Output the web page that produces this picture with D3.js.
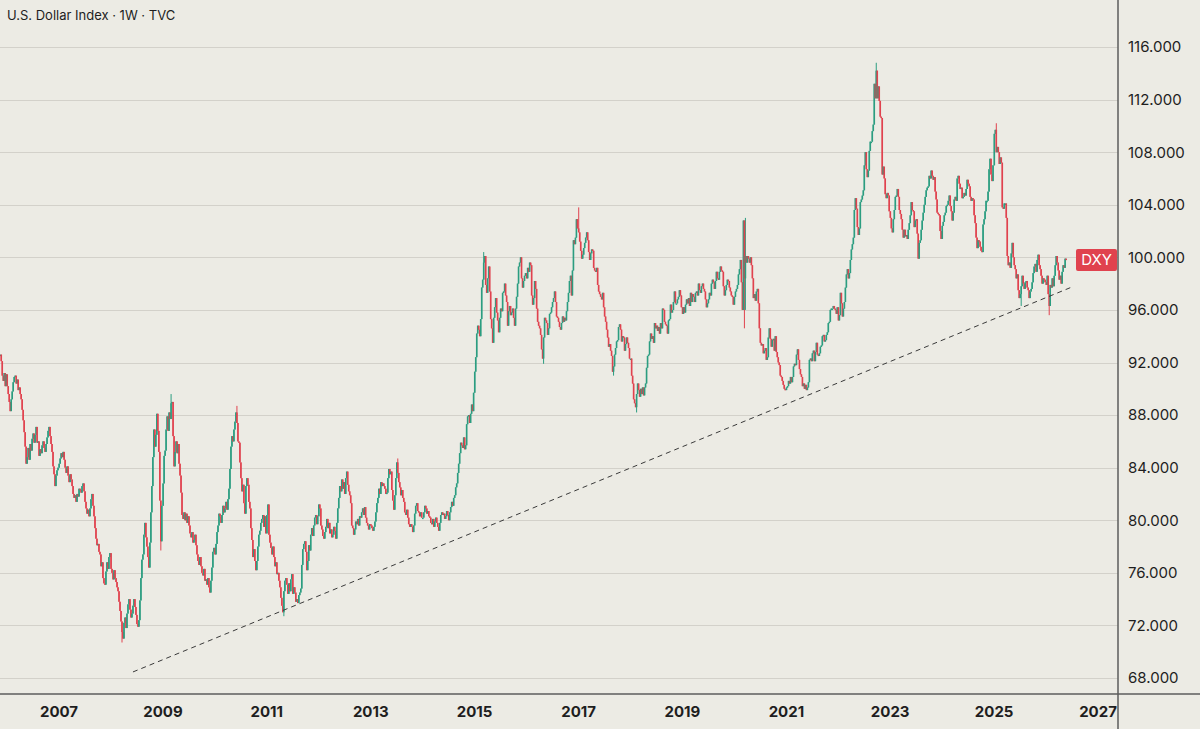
<!DOCTYPE html>
<html lang="en">
<head>
	<meta charset="UTF-8">
	<title>U.S. Dollar Index · 1W · TVC</title>
	<style>
		body { margin: 0; background: #ecebe4; }
		svg { display: block; }
	</style>
</head>
<body>

	<script src="https://d3js.org/d3.v7.min.js" charset="utf-8"></script>

	<script type="text/javascript">

		var chartWidth = 1200,
			chartHeight = 729,
			plotRight = 1118,
			plotBottom = 694;

		var upColor = "#2b9d80",
			downColor = "#e0424e";

		// weekly closes, one array per calendar year
		var w2005 = [92.6, 92.1, 91.0, 90.6, 91.2, 90.2, 91.1]; // from mid November
		var w2006 = [90.2, 89.6, 89.0, 88.3, 89.2, 89.8, 90.5, 90.9, 91.0, 90.4, 90.7, 89.9, 90.1,
			89.6, 89.2, 88.4, 87.6, 86.7, 85.6, 84.3, 84.8, 85.5, 84.6, 85.8, 85.3, 86.2, 86.6,
			85.9, 86.5, 87.1, 85.9, 86.0, 84.9, 85.4, 85.1, 85.7, 86.0, 85.5, 85.2, 85.8, 86.3,
			86.8, 87.1, 86.4, 85.8, 85.2, 84.1, 83.5, 82.6, 83.4, 83.8, 84.0];
		var w2007 = [84.3, 84.7, 85.1, 84.8, 85.2, 84.6, 84.0, 83.6, 84.1, 83.4, 82.9, 83.5, 83.1,
			82.6, 82.0, 81.7, 81.9, 81.4, 82.0, 81.8, 82.4, 82.3, 82.1, 82.6, 82.8, 82.2, 81.4,
			80.9, 80.5, 80.8, 80.3, 80.9, 81.6, 82.0, 81.1, 80.3, 79.4, 78.6, 78.1, 78.2, 77.6,
			77.4, 76.5, 76.8, 75.6, 75.2, 75.1, 76.1, 76.8, 76.3, 77.2, 77.5];
		var w2008 = [76.3, 76.0, 75.5, 76.2, 75.6, 75.3, 74.9, 74.6, 73.8, 73.1, 72.3, 71.5, 71.0,
			72.2, 72.6, 71.8, 72.9, 73.6, 74.0, 73.2, 72.6, 72.9, 73.5, 74.0, 73.4, 72.8, 72.1,
			71.9, 72.4, 73.9, 75.6, 77.0, 77.4, 78.9, 79.8, 78.7, 78.0, 77.2, 76.4, 78.3, 80.6,
			82.6, 84.8, 86.9, 85.6, 86.5, 88.1, 86.8, 85.2, 81.5, 78.4, 81.1];
		var w2009 = [82.8, 84.9, 85.3, 86.9, 87.9, 86.8, 88.2, 87.7, 88.9, 89.0, 86.4, 84.1, 85.2,
			86.0, 85.1, 85.8, 84.3, 83.4, 82.1, 80.4, 80.1, 80.6, 80.0, 80.5, 79.8, 80.3, 79.6,
			79.0, 78.7, 79.1, 78.3, 78.5, 78.9, 78.1, 77.4, 76.9, 76.6, 77.2, 76.5, 76.0, 75.8,
			76.3, 75.4, 75.5, 75.1, 75.6, 74.9, 74.5, 75.4, 76.4, 77.6, 77.9];
		var w2010 = [77.4, 78.2, 79.1, 79.6, 80.5, 80.3, 79.8, 80.4, 81.1, 80.6, 80.9, 81.4, 80.8,
			81.6, 82.4, 83.9, 85.6, 86.4, 86.0, 86.9, 87.5, 88.2, 87.4, 86.0, 85.9, 84.4, 83.2,
			82.2, 82.7, 81.3, 80.5, 82.6, 83.2, 82.7, 81.4, 80.9, 79.4, 78.5, 77.2, 77.8, 76.9,
			76.2, 76.9, 78.0, 78.9, 79.2, 79.8, 80.1, 80.4, 79.5, 80.3, 79.0];
		var w2011 = [80.4, 81.2, 78.9, 78.3, 77.9, 77.4, 78.0, 77.2, 76.5, 76.8, 75.9, 76.0, 75.4,
			74.9, 74.1, 73.5, 73.0, 74.6, 75.4, 75.6, 75.1, 74.4, 75.2, 74.6, 75.5, 75.9, 74.4,
			74.9, 74.5, 73.8, 74.0, 73.7, 74.3, 74.5, 74.8, 76.6, 77.8, 78.2, 78.4, 77.6, 76.2,
			76.9, 78.1, 77.7, 78.9, 79.4, 78.8, 79.6, 80.2, 80.4, 79.7, 80.3];
		var w2012 = [81.2, 80.9, 79.6, 79.3, 78.8, 78.6, 79.1, 79.5, 80.1, 79.4, 79.8, 79.0, 79.3,
			78.7, 78.9, 79.5, 79.2, 78.6, 79.8, 80.9, 81.7, 82.6, 82.2, 83.1, 82.4, 82.9, 82.0,
			83.2, 83.7, 82.7, 82.2, 81.9, 81.3, 79.6, 79.4, 78.9, 79.3, 79.9, 79.7, 80.1, 79.6,
			80.3, 80.2, 80.6, 80.9, 80.4, 81.0, 80.2, 79.8, 79.6, 79.3, 79.7];
		var w2013 = [79.6, 79.4, 79.2, 79.5, 79.9, 80.6, 81.3, 81.7, 82.4, 82.0, 82.9, 82.6, 82.8,
			82.6, 82.4, 82.0, 82.1, 83.2, 83.9, 83.5, 83.7, 82.3, 81.5, 80.8, 81.9, 83.2, 84.4,
			83.6, 82.9, 82.5, 81.9, 82.3, 81.7, 81.4, 80.6, 80.4, 80.8, 80.2, 79.7, 79.5, 79.7,
			79.5, 79.1, 79.6, 80.5, 81.1, 81.3, 80.7, 80.6, 80.3, 80.6, 80.2];
		var w2014 = [80.2, 80.6, 81.1, 80.9, 80.5, 80.7, 80.3, 80.2, 79.8, 79.7, 80.1, 79.5, 79.9,
			80.2, 79.8, 79.5, 79.2, 79.8, 80.4, 80.6, 80.4, 80.5, 80.1, 80.3, 80.7, 80.4, 80.0,
			80.6, 81.0, 81.4, 81.1, 81.7, 81.9, 82.5, 82.8, 83.6, 84.3, 85.1, 85.9, 85.7, 85.5,
			86.3, 85.4, 85.7, 87.3, 87.9, 88.0, 87.4, 88.1, 88.8, 88.3, 89.7];
		var w2015 = [91.3, 92.4, 94.2, 94.8, 94.5, 94.0, 95.3, 97.7, 98.3, 99.6, 100.1, 97.9, 97.3,
			98.4, 99.3, 97.4, 95.3, 94.6, 93.5, 95.4, 96.2, 96.9, 95.8, 95.2, 94.3, 95.4, 96.1,
			95.9, 97.3, 97.4, 98.0, 97.1, 96.6, 94.8, 95.9, 96.3, 95.6, 95.8, 96.1, 95.4, 94.8,
			96.1, 97.0, 98.0, 99.3, 99.6, 100.0, 98.4, 97.7, 98.2, 98.6, 98.8];
		var w2016 = [98.4, 99.2, 98.9, 99.6, 99.4, 97.1, 96.4, 96.9, 98.2, 97.6, 96.1, 95.1, 94.8,
			94.6, 94.1, 93.0, 92.3, 93.9, 95.4, 95.2, 95.0, 94.1, 94.6, 95.7, 95.8, 96.2, 96.6,
			96.9, 97.4, 96.6, 95.5, 95.4, 95.1, 94.7, 94.5, 95.0, 95.5, 95.1, 95.4, 95.2, 95.9,
			96.6, 97.3, 98.2, 98.6, 97.1, 99.0, 101.3, 101.0, 101.5, 102.9, 102.2];
		var w2017 = [101.9, 101.2, 100.5, 99.9, 100.2, 100.7, 101.1, 101.5, 101.9, 101.3, 100.4,
			99.8, 100.3, 100.6, 100.5, 99.2, 99.0, 98.9, 99.2, 97.9, 97.4, 97.2, 97.0, 96.8, 97.3,
			96.2, 95.5, 95.1, 94.5, 93.9, 93.2, 93.4, 92.9, 92.5, 91.3, 91.7, 92.6, 93.1, 93.6,
			93.7, 94.7, 94.9, 94.5, 93.6, 94.0, 93.9, 92.9, 93.4, 93.9, 93.5, 93.1, 92.3];
		var w2018 = [92.3, 91.0, 90.4, 89.2, 88.9, 88.6, 89.6, 90.4, 89.9, 89.4, 90.0, 89.6, 90.1,
			89.5, 90.1, 90.4, 91.6, 92.5, 92.6, 93.6, 94.2, 93.8, 94.0, 93.5, 95.0, 94.6, 94.8,
			94.4, 94.7, 94.2, 95.0, 94.6, 96.1, 96.0, 95.1, 94.9, 94.8, 94.2, 95.2, 95.3, 96.4,
			95.8, 96.0, 96.6, 97.4, 96.5, 96.5, 96.8, 97.0, 97.5, 97.1, 96.2];
		var w2019 = [95.7, 96.2, 95.8, 96.4, 96.8, 96.5, 96.9, 96.3, 97.3, 96.6, 97.2, 97.0, 96.6,
			97.3, 97.4, 97.1, 98.0, 97.5, 97.3, 97.8, 98.0, 97.6, 97.4, 96.8, 96.2, 96.5, 96.8,
			97.3, 97.1, 98.0, 98.3, 98.1, 97.6, 98.2, 98.9, 98.4, 98.3, 98.9, 99.3, 99.0, 98.9,
			97.8, 97.1, 97.5, 97.9, 98.3, 98.2, 97.7, 97.4, 97.1, 97.0, 96.4];
		var w2020 = [97.0, 97.4, 97.6, 97.9, 98.7, 99.1, 99.8, 98.1, 96.0, 102.8, 98.4, 100.1,
			99.6, 100.1, 99.9, 99.6, 100.0, 99.4, 98.4, 96.9, 97.2, 96.7, 97.4, 97.6, 96.5, 94.6,
			93.5, 93.3, 93.4, 92.7, 92.9, 93.1, 92.2, 92.4, 93.9, 94.6, 93.8, 93.2, 93.7, 93.8,
			92.9, 94.0, 92.8, 92.4, 92.0, 91.8, 91.0, 90.9, 90.6, 90.3, 90.0, 89.9];
		var w2021 = [90.1, 90.2, 90.6, 90.4, 90.9, 90.5, 90.9, 91.7, 91.9, 91.8, 92.6, 93.0, 92.2,
			91.5, 91.1, 90.9, 90.2, 90.4, 90.0, 90.3, 89.9, 90.1, 90.5, 92.2, 92.3, 92.1, 92.7,
			92.9, 92.1, 92.8, 93.5, 92.6, 92.5, 92.7, 93.2, 93.3, 94.0, 94.1, 93.6, 93.7, 94.1,
			94.3, 95.0, 95.1, 96.0, 96.1, 96.1, 96.3, 96.1, 96.0, 95.7, 96.2];
		var w2022 = [95.2, 95.6, 97.3, 96.5, 95.5, 96.1, 96.6, 97.7, 98.7, 99.1, 98.4, 98.8, 99.8,
			100.6, 101.0, 101.5, 103.6, 104.5, 103.7, 102.3, 101.7, 102.2, 104.2, 104.4, 104.7,
			105.1, 107.0, 108.0, 106.7, 106.1, 106.6, 108.1, 108.8, 108.8, 109.6, 110.1, 113.2,
			112.1, 114.2, 112.1, 113.0, 111.9, 110.7, 110.6, 106.3, 106.9, 106.0, 104.8, 104.5,
			104.9, 104.7, 103.5];
		var w2023 = [103.0, 102.2, 101.9, 102.9, 103.6, 104.6, 104.7, 105.2, 104.6, 103.6, 103.3,
			102.9, 102.1, 101.5, 102.1, 101.6, 101.7, 101.4, 102.1, 102.6, 103.2, 104.2, 103.6,
			103.5, 102.3, 102.8, 102.9, 101.8, 99.9, 101.1, 101.3, 102.1, 102.8, 103.4, 104.0,
			104.6, 105.1, 105.3, 105.4, 106.2, 106.0, 106.6, 106.2, 105.9, 106.1, 105.0, 104.4,
			103.4, 103.3, 103.2, 102.0, 101.4];
		var w2024 = [102.4, 102.7, 103.2, 103.4, 103.9, 104.0, 104.3, 104.7, 103.9, 103.5, 102.8,
			103.4, 104.4, 104.6, 104.3, 106.0, 106.2, 105.6, 105.2, 105.3, 104.5, 104.6, 104.9,
			104.7, 105.2, 105.9, 105.6, 105.4, 104.6, 104.3, 104.5, 104.4, 103.2, 102.6, 101.5,
			100.7, 101.3, 101.2, 100.8, 100.5, 100.4, 102.5, 102.9, 103.5, 104.3, 104.3, 105.0,
			106.7, 107.5, 106.3, 105.8, 107.0];
		var w2025 = [109.4, 109.7, 108.0, 108.4, 108.0, 107.1, 107.6, 107.2, 103.8, 103.7, 104.1,
			104.1, 103.0, 100.1, 99.4, 99.6, 99.2, 100.3, 101.1, 100.0, 99.4, 99.1, 98.4, 98.7,
			97.5, 96.9, 97.2, 97.8, 98.6, 98.0, 97.6, 98.1, 98.2, 97.7, 97.5, 96.9, 97.4, 97.6,
			98.1, 98.8, 99.3, 99.5, 98.9, 99.8, 100.2, 99.4, 99.1, 98.6, 98.0, 98.4, 98.3, 98.1];
		var w2026 = [97.9, 98.6, 97.2, 96.3, 97.9, 97.7, 98.4, 97.8, 98.6, 99.4, 100.1, 99.6, 99.0,
			98.3, 98.6, 98.0, 98.9, 99.4, 99.2, 99.9, 99.8];

		var years = [2005, 2006, 2007, 2008, 2009, 2010, 2011, 2012, 2013, 2014, 2015,
			2016, 2017, 2018, 2019, 2020, 2021, 2022, 2023, 2024, 2025, 2026];
		var yearCloses = [w2005, w2006, w2007, w2008, w2009, w2010, w2011, w2012, w2013, w2014, w2015,
			w2016, w2017, w2018, w2019, w2020, w2021, w2022, w2023, w2024, w2025, w2026];

		// weekly extremes that poke out of the bodies: [week, low, high]
		var wicks = [
			[ "2008-03-17", 70.7, null ],
			[ "2008-12-15", 77.7, null ],
			[ "2009-03-02", null, 89.6 ],
			[ "2010-06-07", null, 88.7 ],
			[ "2011-05-02", 72.7, null ],
			[ "2013-07-08", null, 84.7 ],
			[ "2015-03-09", null, 100.4 ],
			[ "2016-05-02", 91.9, null ],
			[ "2017-01-02", null, 103.8 ],
			[ "2017-09-04", 91.0, null ],
			[ "2018-02-12", 88.2, null ],
			[ "2020-03-09", 94.6, 100.2 ],
			[ "2020-03-16", 96.0, 103.0 ],
			[ "2022-09-26", null, 114.8 ],
			[ "2025-01-13", null, 110.2 ],
			[ "2025-07-07", 96.3, null ],
			[ "2026-01-26", 95.6, null ]
		];

		var priceTicks = [68, 72, 76, 80, 84, 88, 92, 96, 100, 104, 108, 112, 116];
		var yearTicks = [2007, 2009, 2011, 2013, 2015, 2017, 2019, 2021, 2023, 2025, 2027];

		// support line drawn under the 2008 / 2011 / 2021 lows
		var trendLine = [ [ "2008-06-04", 68.46 ], [ "2026-07-01", 97.74 ] ];

		var parseDay = d3.timeParse( "%Y-%m-%d" );


		function buildCandles() {
			var candles = [];

			yearCloses.forEach( function( closes, i ) {
				var start = i === 0 ? new Date( 2005, 10, 14 ) : new Date( years[ i ], 0, 2 );

				closes.forEach( function( close, k ) {
					var open = candles.length ? candles[ candles.length - 1 ].close : close;
					candles.push( {
						date: d3.timeDay.offset( start, 7 * k ),
						open: open,
						close: close,
						high: Math.max( open, close ),
						low: Math.min( open, close )
					} );
				} );
			} );

			wicks.forEach( function( w ) {
				var day = parseDay( w[ 0 ] ),
					nearest = d3.least( candles, function( c ) { return Math.abs( c.date - day ); } );
				if( w[ 1 ] !== null ) { nearest.low = Math.min( nearest.low, w[ 1 ] ); }
				if( w[ 2 ] !== null ) { nearest.high = Math.max( nearest.high, w[ 2 ] ); }
			} );

			return candles;
		}


		var candles = buildCandles();

		var x = d3.scaleTime()
			.domain( [ new Date( 2007, 0, 1 ), new Date( 2027, 0, 1 ) ] )
			.range( [ 59, 1098 ] );

		var y = d3.scaleLinear()
			.domain( [ 68, 116 ] )
			.range( [ 678, 47 ] );

		var svg = d3.select( "body" )
			.append( "svg" )
			.attr( "width", chartWidth )
			.attr( "height", chartHeight )
			.style( "font-family", "Inter, 'Noto Sans', sans-serif" );

		svg.append( "rect" )
			.attr( "width", chartWidth )
			.attr( "height", chartHeight )
			.attr( "fill", "#ecebe4" );

		svg.append( "clipPath" )
			.attr( "id", "plot-clip" )
			.append( "rect" )
			.attr( "width", plotRight )
			.attr( "height", plotBottom );

		// horizontal grid
		svg.append( "g" )
			.selectAll( "line" )
			.data( priceTicks )
			.join( "line" )
			.attr( "x1", 0 )
			.attr( "x2", plotRight )
			.attr( "y1", function( d ) { return Math.round( y( d ) ) + 0.5; } )
			.attr( "y2", function( d ) { return Math.round( y( d ) ) + 0.5; } )
			.attr( "stroke", "#d3d1ca" )
			.attr( "stroke-width", 1 );

		var plot = svg.append( "g" ).attr( "clip-path", "url(#plot-clip)" );

		// candles: wick then body
		plot.append( "g" )
			.selectAll( "line" )
			.data( candles )
			.join( "line" )
			.attr( "x1", function( d ) { return x( d.date ); } )
			.attr( "x2", function( d ) { return x( d.date ); } )
			.attr( "y1", function( d ) { return y( d.high ); } )
			.attr( "y2", function( d ) { return y( d.low ); } )
			.attr( "stroke", function( d ) { return d.close >= d.open ? upColor : downColor; } )
			.attr( "stroke-width", 1 );

		plot.append( "g" )
			.selectAll( "rect" )
			.data( candles )
			.join( "rect" )
			.attr( "x", function( d ) { return x( d.date ) - 0.8; } )
			.attr( "width", 1.6 )
			.attr( "y", function( d ) { return y( Math.max( d.open, d.close ) ); } )
			.attr( "height", function( d ) {
				return Math.max( 1.5, Math.abs( y( d.open ) - y( d.close ) ) );
			} )
			.attr( "fill", function( d ) { return d.close >= d.open ? upColor : downColor; } );

		// dashed support line
		plot.append( "line" )
			.attr( "x1", x( parseDay( trendLine[ 0 ][ 0 ] ) ) )
			.attr( "y1", y( trendLine[ 0 ][ 1 ] ) )
			.attr( "x2", x( parseDay( trendLine[ 1 ][ 0 ] ) ) )
			.attr( "y2", y( trendLine[ 1 ][ 1 ] ) )
			.attr( "stroke", "#3a3a3a" )
			.attr( "stroke-width", 1 )
			.attr( "stroke-dasharray", "5,4" );

		// axes frame
		svg.append( "line" )
			.attr( "x1", 0 ).attr( "x2", chartWidth )
			.attr( "y1", plotBottom ).attr( "y2", plotBottom )
			.attr( "stroke", "#5c5c5c" )
			.attr( "stroke-width", 1.5 );

		svg.append( "line" )
			.attr( "x1", plotRight ).attr( "x2", plotRight )
			.attr( "y1", 0 ).attr( "y2", chartHeight )
			.attr( "stroke", "#5c5c5c" )
			.attr( "stroke-width", 1.5 );

		// price labels
		svg.append( "g" )
			.selectAll( "text" )
			.data( priceTicks )
			.join( "text" )
			.attr( "x", 1128 )
			.attr( "y", function( d ) { return y( d ); } )
			.attr( "dy", "0.36em" )
			.attr( "font-size", 15 )
			.attr( "fill", "#1e1e1e" )
			.text( d3.format( ".3f" ) );

		// year labels
		svg.append( "g" )
			.selectAll( "text" )
			.data( yearTicks )
			.join( "text" )
			.attr( "x", function( d ) { return x( new Date( d, 0, 1 ) ); } )
			.attr( "y", 717 )
			.attr( "text-anchor", "middle" )
			.attr( "font-size", 15 )
			.attr( "font-weight", "bold" )
			.attr( "fill", "#1e1e1e" )
			.text( function( d ) { return d; } );

		// symbol tag at the last close
		var last = candles[ candles.length - 1 ];

		svg.append( "rect" )
			.attr( "x", 1076 )
			.attr( "y", y( last.close ) - 11 )
			.attr( "width", 41 )
			.attr( "height", 22 )
			.attr( "rx", 2 )
			.attr( "fill", "#e0424e" );

		svg.append( "text" )
			.attr( "x", 1096.5 )
			.attr( "y", y( last.close ) )
			.attr( "dy", "0.36em" )
			.attr( "text-anchor", "middle" )
			.attr( "font-size", 15 )
			.attr( "fill", "#ffffff" )
			.text( "DXY" );

		svg.append( "text" )
			.attr( "x", 7 )
			.attr( "y", 20 )
			.attr( "font-size", 13 )
			.attr( "fill", "#1e1e1e" )
			.text( "U.S. Dollar Index · 1W · TVC" );

	</script>
</body>
</html>
